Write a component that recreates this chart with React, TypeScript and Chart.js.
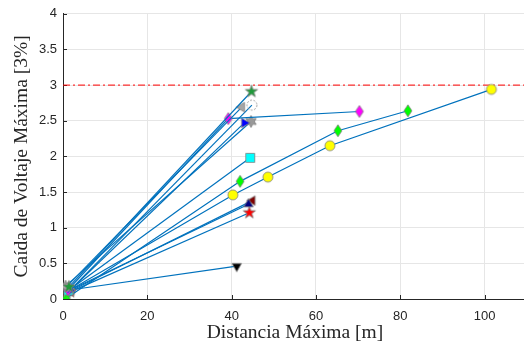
import React, { useEffect, useRef } from 'react';
import { Chart, registerables } from 'chart.js';

Chart.register(...registerables);

const LINE_BLUE = '#0072BD';

// ---- data ----
const xTicks = [0, 20, 40, 60, 80, 100];
const yTicks = [0, 0.5, 1, 1.5, 2, 2.5, 3, 3.5, 4];

const greenStarX = [1.4, 44.7];
const greenStarY = [0.17, 2.91];
const grayTriX = [0.8, 42.4];
const grayTriY = [0.17, 2.69];
const grayCircleX = [1.1, 44.8];
const grayCircleY = [0.09, 2.72];
const magentaX = [1.2, 39.2, 70.3];
const magentaY = [0.13, 2.53, 2.63];
const blueTriX = [1.6, 43.0];
const blueTriY = [0.12, 2.47];
const grayHexX = [0.6, 44.6];
const grayHexY = [0.18, 2.49];
const cyanX = [1.3, 44.4];
const cyanY = [0.12, 1.98];
const greenDiaX = [0.8, 42.0, 65.2, 81.8];
const greenDiaY = [0.01, 1.65, 2.36, 2.64];
const yellowX = [1.5, 40.3, 48.6, 63.3, 101.6];
const yellowY = [0.12, 1.46, 1.71, 2.15, 2.94];
const navyX = [1.8, 44.0];
const navyY = [0.13, 1.33];
const darkRedX = [2.0, 44.9];
const darkRedY = [0.12, 1.38];
const redStarX = [1.7, 44.2];
const redStarY = [0.1, 1.21];
const blackX = [2.0, 41.2];
const blackY = [0.13, 0.46];
const limitX = [0, 110];
const limitY = [3, 3];

function makeMarker(shape: string, fill: string | null, stroke: string, dashed = false): HTMLCanvasElement {
  const S = 16;
  const c = document.createElement('canvas');
  c.width = S;
  c.height = S;
  const g = c.getContext('2d')!;
  const cx = S / 2;
  const cy = S / 2;
  const star = (n: number, ro: number, ri: number) => {
    for (let i = 0; i < n * 2; i++) {
      const r = i % 2 === 0 ? ro : ri;
      const a = -Math.PI / 2 + (i * Math.PI) / n;
      const px = cx + r * Math.cos(a);
      const py = cy + r * Math.sin(a);
      if (i === 0) g.moveTo(px, py);
      else g.lineTo(px, py);
    }
    g.closePath();
  };
  const tri = (rot: number) => {
    for (let i = 0; i < 3; i++) {
      const a = rot + (i * 2 * Math.PI) / 3;
      const px = cx + 5.5 * Math.cos(a);
      const py = cy + 5.5 * Math.sin(a);
      if (i === 0) g.moveTo(px, py);
      else g.lineTo(px, py);
    }
    g.closePath();
  };
  g.beginPath();
  switch (shape) {
    case 'circle':
      g.arc(cx, cy, 5, 0, Math.PI * 2);
      break;
    case 'square':
      g.rect(cx - 4.5, cy - 4.5, 9, 9);
      break;
    case 'diamond':
      g.moveTo(cx, cy - 6);
      g.lineTo(cx + 4, cy);
      g.lineTo(cx, cy + 6);
      g.lineTo(cx - 4, cy);
      g.closePath();
      break;
    case 'triUp':
      tri(-Math.PI / 2);
      break;
    case 'triDown':
      tri(Math.PI / 2);
      break;
    case 'triLeft':
      tri(Math.PI);
      break;
    case 'triRight':
      tri(0);
      break;
    case 'pentagram':
      star(5, 6.5, 2.6);
      break;
    case 'hexagram':
      star(6, 6, 3.3);
      break;
  }
  if (fill) {
    g.fillStyle = fill;
    g.fill();
  }
  g.lineWidth = 0.8;
  g.strokeStyle = stroke;
  if (dashed) g.setLineDash([2, 1.5]);
  g.stroke();
  return c;
}

const innerTicks = {
  id: 'innerTicks',
  beforeDatasetsDraw(chart: any) {
    const { ctx, chartArea, scales } = chart;
    ctx.save();
    ctx.strokeStyle = '#262626';
    ctx.lineWidth = 1;
    ctx.beginPath();
    xTicks.forEach((v) => {
      const px = Math.round(scales.x.getPixelForValue(v)) + 0.5;
      ctx.moveTo(px, chartArea.bottom);
      ctx.lineTo(px, chartArea.bottom - 4);
    });
    yTicks.forEach((v) => {
      const py = Math.round(scales.y.getPixelForValue(v)) + 0.5;
      ctx.moveTo(chartArea.left, py);
      ctx.lineTo(chartArea.left + 4, py);
    });
    ctx.stroke();
    ctx.restore();
  },
};

export default function App() {
  const ref = useRef<HTMLCanvasElement | null>(null);

  useEffect(() => {
    if (!ref.current) return;
    const grayEdge = '#7f7f7f';
    const series: { xs: number[]; ys: number[]; marker: HTMLCanvasElement }[] = [
      { xs: greenStarX, ys: greenStarY, marker: makeMarker('pentagram', '#1f9a3a', grayEdge) },
      { xs: grayTriX, ys: grayTriY, marker: makeMarker('triLeft', '#a6a6a6', grayEdge) },
      { xs: grayCircleX, ys: grayCircleY, marker: makeMarker('circle', null, '#8c8c8c', true) },
      { xs: magentaX, ys: magentaY, marker: makeMarker('diamond', '#ff00ff', grayEdge) },
      { xs: blueTriX, ys: blueTriY, marker: makeMarker('triRight', '#0000ff', grayEdge) },
      { xs: grayHexX, ys: grayHexY, marker: makeMarker('hexagram', '#999999', grayEdge) },
      { xs: cyanX, ys: cyanY, marker: makeMarker('square', '#00ffff', grayEdge) },
      { xs: greenDiaX, ys: greenDiaY, marker: makeMarker('diamond', '#00ff00', grayEdge) },
      { xs: yellowX, ys: yellowY, marker: makeMarker('circle', '#ffff00', grayEdge) },
      { xs: navyX, ys: navyY, marker: makeMarker('triUp', '#000080', grayEdge) },
      { xs: darkRedX, ys: darkRedY, marker: makeMarker('triLeft', '#800000', grayEdge) },
      { xs: redStarX, ys: redStarY, marker: makeMarker('pentagram', '#ff0000', grayEdge) },
      { xs: blackX, ys: blackY, marker: makeMarker('triDown', '#000000', grayEdge) },
    ];

    const datasets: any[] = series.map((s) => ({
      data: s.xs.map((x, i) => ({ x, y: s.ys[i] })),
      showLine: true,
      borderColor: LINE_BLUE,
      borderWidth: 1.2,
      pointStyle: s.marker,
      pointRadius: 5,
      pointHoverRadius: 5,
    }));
    datasets.push({
      data: limitX.map((x, i) => ({ x, y: limitY[i] })),
      showLine: true,
      borderColor: '#ff0000',
      borderWidth: 1,
      borderDash: [7, 3, 2, 3],
      pointRadius: 0,
    });

    const tickFont = { family: "'Liberation Sans', Arial, sans-serif", size: 13 };
    const titleFont = { family: "'Liberation Serif', 'Times New Roman', serif", size: 19.5 };

    const chart = new Chart(ref.current, {
      type: 'scatter',
      data: { datasets },
      plugins: [innerTicks],
      options: {
        animation: false,
        responsive: false,
        events: [],
        layout: { padding: { left: 0, top: 13, right: 1, bottom: 0 } },
        plugins: { legend: { display: false }, tooltip: { enabled: false } },
        scales: {
          x: {
            type: 'linear',
            min: 0,
            max: 110,
            afterFit: (s: any) => {
              s.height = 50;
            },
            afterBuildTicks: (s: any) => {
              s.ticks = xTicks.map((v) => ({ value: v }));
            },
            ticks: {
              color: '#262626',
              font: tickFont,
              padding: 10,
              maxRotation: 0,
              callback: (v: any) => String(v),
            },
            grid: { color: '#e6e6e6', drawTicks: false },
            border: { color: '#262626', width: 1 },
            title: {
              display: true,
              text: 'Distancia Máxima [m]',
              color: '#262626',
              font: titleFont,
              padding: { top: 0, bottom: 4 },
            },
          },
          y: {
            type: 'linear',
            min: 0,
            max: 4,
            afterFit: (s: any) => {
              s.width = 63;
            },
            afterBuildTicks: (s: any) => {
              s.ticks = yTicks.map((v) => ({ value: v }));
            },
            ticks: {
              color: '#262626',
              font: tickFont,
              padding: 6,
              callback: (v: any) => String(v),
            },
            grid: { color: '#e6e6e6', drawTicks: false },
            border: { color: '#262626', width: 1 },
            title: {
              display: true,
              text: 'Caída de Voltaje Máxima [3%]',
              color: '#262626',
              font: titleFont,
              padding: { top: 10, bottom: 0 },
            },
          },
        },
      } as any,
    });
    return () => chart.destroy();
  }, []);

  return (
    <div
      style={{
        position: 'fixed',
        left: 0,
        top: 0,
        width: 524,
        height: 349,
        overflow: 'hidden',
        background: '#ffffff',
      }}
    >
      <canvas ref={ref} width={533} height={349} style={{ display: 'block' }} />
    </div>
  );
}
